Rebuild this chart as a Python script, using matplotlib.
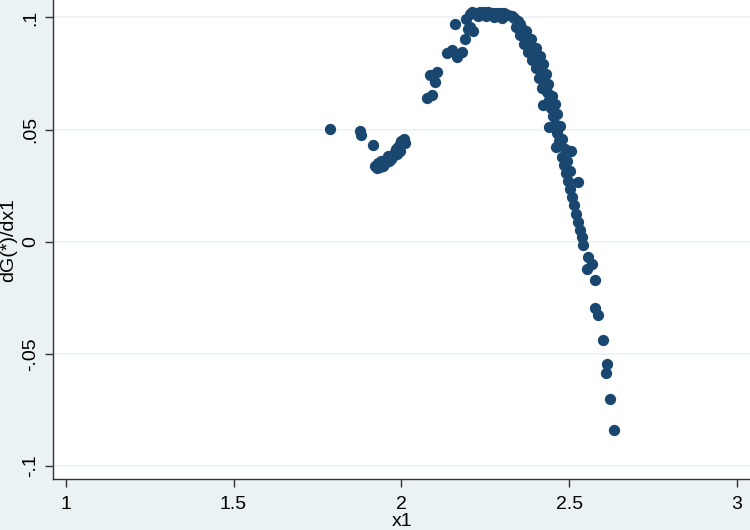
import matplotlib.pyplot as plt

plt.rcParams['font.family'] = ['Liberation Sans', 'DejaVu Sans']

# points (x1, dG(*)/dx1)
x1 = [1.787, 1.876, 1.879, 1.915,
      1.921, 1.930, 1.939, 1.948, 1.927, 1.936, 1.945, 1.954, 1.963, 1.969,
      1.960, 1.975, 1.981, 1.984, 1.990, 1.996, 1.999, 2.007, 2.010, 1.996, 1.987,
      2.076, 2.091, 2.085, 2.106, 2.100, 2.136, 2.151, 2.165, 2.180, 2.159,
      2.189, 2.198, 2.204, 2.213, 2.192, 2.204,
      2.210, 2.222, 2.234, 2.246, 2.258, 2.270, 2.282, 2.294, 2.306, 2.317,
      2.329, 2.228, 2.252, 2.276, 2.300,
      2.335, 2.347, 2.341, 2.359, 2.353, 2.371, 2.365, 2.383, 2.377, 2.395,
      2.389, 2.407, 2.401, 2.416, 2.410, 2.425, 2.419, 2.434, 2.422, 2.440,
      2.446, 2.452, 2.440, 2.457, 2.463, 2.469, 2.460, 2.507, 2.478, 2.484,
      2.490, 2.496, 2.526, 2.502, 2.508, 2.514, 2.520, 2.526, 2.532, 2.538, 2.541,
      2.353, 2.371, 2.386, 2.401, 2.413, 2.422, 2.431, 2.437, 2.449, 2.457,
      2.463, 2.472, 2.478, 2.487, 2.493, 2.502,
      2.556, 2.568, 2.553, 2.577, 2.577, 2.586, 2.601, 2.613, 2.610, 2.621, 2.633]
dG = [0.0505, 0.0492, 0.0474, 0.0433,
      0.0338, 0.0352, 0.0361, 0.0347, 0.0329, 0.0334, 0.0338, 0.0356, 0.0361, 0.0370,
      0.0383, 0.0383, 0.0401, 0.0415, 0.0424, 0.0437, 0.0451, 0.0460, 0.0442, 0.0406, 0.0392,
      0.0640, 0.0654, 0.0744, 0.0758, 0.0713, 0.0843, 0.0857, 0.0825, 0.0848, 0.0970,
      0.0902, 0.0947, 0.0956, 0.0938, 0.0992, 0.1015,
      0.1024, 0.1022, 0.1024, 0.1024, 0.1024, 0.1022, 0.1022, 0.1018, 0.1018, 0.1013,
      0.1008, 0.1008, 0.1008, 0.1004, 0.0999,
      0.0999, 0.0983, 0.0956, 0.0947, 0.0920, 0.0911, 0.0884, 0.0875, 0.0848, 0.0839,
      0.0812, 0.0803, 0.0776, 0.0758, 0.0731, 0.0713, 0.0685, 0.0667, 0.0609, 0.0631,
      0.0595, 0.0559, 0.0510, 0.0523, 0.0487, 0.0451, 0.0424, 0.0406, 0.0379, 0.0343,
      0.0307, 0.0271, 0.0266, 0.0234, 0.0198, 0.0162, 0.0126, 0.0090, 0.0054, 0.0023, -0.0014,
      0.0970, 0.0938, 0.0902, 0.0866, 0.0830, 0.0794, 0.0749, 0.0704, 0.0650, 0.0613,
      0.0568, 0.0514, 0.0460, 0.0415, 0.0361, 0.0316,
      -0.0070, -0.0097, -0.0120, -0.0172, -0.0297, -0.0328, -0.0438, -0.0545, -0.0587, -0.0702, -0.0840]

xticks = [1, 1.5, 2, 2.5, 3]
xticklabels = ['1', '1.5', '2', '2.5', '3']
yticks = [-0.1, -0.05, 0, 0.05, 0.1]
yticklabels = ['-.1', '-.05', '0', '.05', '.1']

bg = '#EAF2F3'
navy = '#1A476F'

fig = plt.figure(figsize=(7.5, 5.3), dpi=100, facecolor=bg)
ax = fig.add_axes([0.0711, 0.0957, 0.9289, 0.9043])
ax.set_facecolor('white')

ax.scatter(x1, dG, s=66, color=navy, linewidths=0, zorder=3)

ax.set_xlim(0.963, 3.039)
ax.set_ylim(-0.1059, 0.1078)
ax.set_xticks(xticks)
ax.set_xticklabels(xticklabels)
ax.set_yticks(yticks)
ax.set_yticklabels(yticklabels, rotation=90, va='center')
ax.tick_params(axis='both', labelsize=14, length=6, width=1, color='#333333', direction='out')
ax.tick_params(axis='x', pad=6)
ax.tick_params(axis='y', pad=4)

ax.grid(axis='y', color=bg, linewidth=1.2, zorder=0)
ax.grid(axis='x', visible=False)
for side in ['top', 'right']:
    ax.spines[side].set_visible(False)
for side in ['left', 'bottom']:
    ax.spines[side].set_color('#333333')
    ax.spines[side].set_linewidth(1)

ax.set_xlabel('x1', fontsize=14, labelpad=0)
ax.set_ylabel('dG(*)/dx1', fontsize=14, labelpad=4)

fig.savefig('out.png', dpi=100, facecolor=bg)
